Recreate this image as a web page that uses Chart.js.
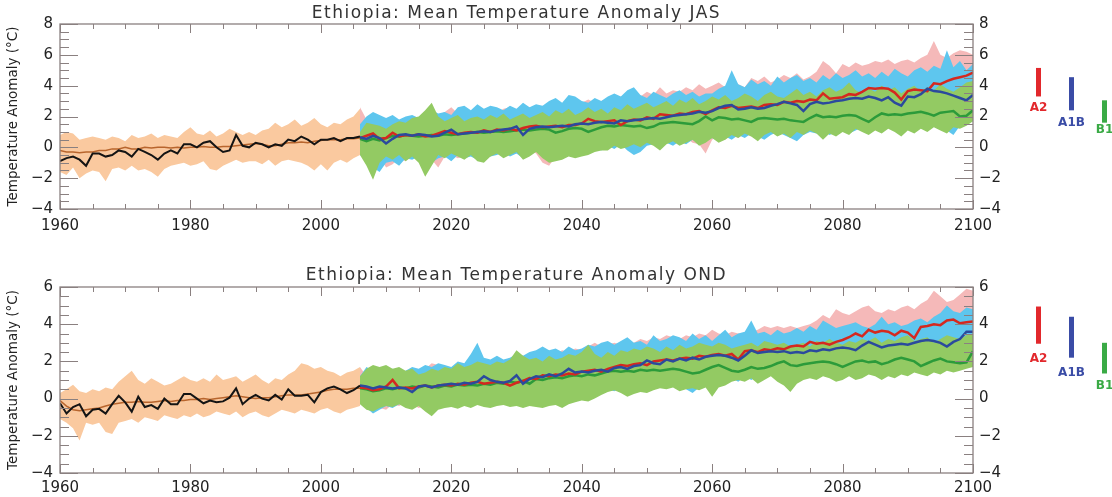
<!DOCTYPE html>
<html><head><meta charset="utf-8">
<script src="https://cdn.jsdelivr.net/npm/chart.js@4/dist/chart.umd.min.js"></script>
<style>
html,body{margin:0;padding:0;background:#fff;width:1112px;height:497px;overflow:hidden}
.p{position:absolute;left:0;width:1112px}
#w1{top:0;height:248px}
#w2{top:250px;height:247px}
</style></head><body>
<div id="w1" class="p"><canvas id="c1"></canvas></div>
<div id="w2" class="p"><canvas id="c2"></canvas></div>
<script>
// ---------- categories ----------
const histYears = [1960,1961,1962,1963,1964,1965,1966,1967,1968,1969,
1970,1971,1972,1973,1974,1975,1976,1977,1978,1979,
1980,1981,1982,1983,1984,1985,1986,1987,1988,1989,
1990,1991,1992,1993,1994,1995,1996,1997,1998,1999,
2000,2001,2002,2003,2004,2005,2006];
const projYears = [2006,2007,2008,2009,
2010,2011,2012,2013,2014,2015,2016,2017,2018,2019,
2020,2021,2022,2023,2024,2025,2026,2027,2028,2029,
2030,2031,2032,2033,2034,2035,2036,2037,2038,2039,
2040,2041,2042,2043,2044,2045,2046,2047,2048,2049,
2050,2051,2052,2053,2054,2055,2056,2057,2058,2059,
2060,2061,2062,2063,2064,2065,2066,2067,2068,2069,
2070,2071,2072,2073,2074,2075,2076,2077,2078,2079,
2080,2081,2082,2083,2084,2085,2086,2087,2088,2089,
2090,2091,2092,2093,2094,2095,2096,2097,2098,2099,
2100];
const xTickStep = 20;
const yTitle = 'Temperature Anomaly (°C)';
const titleJAS = 'Ethiopia: Mean Temperature Anomaly JAS';
const titleOND = 'Ethiopia: Mean Temperature Anomaly OND';
const scenarioNames = ['A2','A1B','B1'];

// ---------- JAS ----------
const jasObs = [-0.9,-0.7,-0.6,-0.8,-1.2,-0.4,-0.4,-0.6,-0.5,-0.2,
-0.3,-0.6,-0.1,-0.3,-0.5,-0.8,-0.4,-0.2,-0.4,0.2,
0.2,0.0,0.3,0.4,0.0,-0.3,-0.2,0.8,0.1,0.0,
0.3,0.2,0.0,0.2,0.1,0.5,0.4,0.7,0.5,0.2,
0.5,0.5,0.6,0.4,0.6,0.6,0.7];
const jasHistMean = [-0.2,-0.3,-0.3,-0.35,-0.3,-0.3,-0.2,-0.2,-0.1,-0.1,
0.0,-0.1,-0.1,0.0,-0.05,0.0,0.0,-0.05,0.0,-0.05,
0.0,0.0,0.05,0.0,0.0,0.05,0.05,0.1,0.15,0.2,
0.25,0.2,0.1,0.1,0.2,0.3,0.3,0.35,0.3,0.4,
0.45,0.5,0.5,0.5,0.55,0.55,0.6];
const jasHistHi = [0.8,1.0,0.9,0.5,0.6,0.7,0.6,0.5,0.7,0.6,
0.4,0.8,0.6,0.7,0.9,0.6,0.8,0.7,0.6,1.0,
1.3,0.9,0.8,1.1,0.7,0.9,1.2,1.0,0.8,1.0,
0.8,1.1,1.2,1.6,1.3,1.5,1.8,1.4,1.6,1.9,
1.5,1.3,1.6,1.5,1.8,2.0,2.5];
const jasHistLo = [-1.6,-1.8,-1.3,-2.0,-1.7,-1.5,-1.6,-2.2,-1.4,-1.3,
-1.5,-1.2,-1.5,-1.4,-1.6,-1.9,-1.4,-1.2,-1.1,-1.0,
-1.2,-1.1,-0.9,-1.4,-1.5,-1.2,-1.0,-0.8,-1.0,-0.9,
-0.9,-1.1,-0.8,-1.2,-0.9,-0.8,-0.9,-1.0,-1.2,-1.5,
-1.1,-1.5,-1.0,-0.8,-1.0,-0.7,-0.5];
const jasA2 = [0.60,0.75,0.90,0.55,
0.60,0.95,0.70,0.80,0.75,0.85,0.70,0.75,0.90,1.05,
0.95,0.85,0.95,1.00,0.95,1.10,1.00,1.15,1.10,1.20,
1.10,1.25,1.35,1.40,1.30,1.35,1.40,1.30,1.45,1.45,
1.55,1.85,1.70,1.65,1.70,1.75,1.45,1.70,1.80,1.75,
1.95,1.85,2.15,2.10,2.05,2.20,2.15,2.30,2.35,2.15,
2.40,2.60,2.55,2.70,2.55,2.60,2.65,2.55,2.75,2.80,
2.75,2.95,2.90,3.00,2.95,3.10,3.05,3.50,3.15,3.20,
3.25,3.45,3.40,3.60,3.85,3.80,3.85,3.80,3.55,3.10,
3.65,3.75,3.70,3.65,4.15,4.10,4.30,4.45,4.55,4.65,
4.85];
const jasA1B = [0.65,0.55,0.75,0.60,
0.25,0.55,0.80,0.85,0.75,0.85,0.80,0.70,0.75,0.95,
1.15,0.85,0.90,0.95,1.00,1.05,1.00,1.10,1.15,1.20,
1.35,0.80,1.20,1.30,1.35,1.30,1.35,1.40,1.35,1.50,
1.55,1.50,1.60,1.65,1.60,1.55,1.75,1.70,1.75,1.80,
1.85,1.90,1.85,1.95,2.05,2.10,2.15,2.20,2.30,2.25,
2.35,2.55,2.70,2.75,2.45,2.50,2.60,2.50,2.55,2.70,
2.80,2.95,2.85,2.75,2.35,2.80,2.95,2.85,2.90,3.00,
3.05,3.15,3.20,3.15,3.30,3.20,3.05,3.25,2.90,2.70,
3.30,3.25,3.45,3.80,3.65,3.60,3.50,3.35,3.20,3.05,
3.40];
const jasB1 = [0.55,0.40,0.55,0.45,
0.60,0.75,0.70,0.80,0.75,0.70,0.75,0.80,0.75,0.85,
0.80,0.85,0.90,0.95,1.00,0.95,1.00,1.05,1.00,1.05,
1.10,1.15,1.10,1.15,1.20,1.15,0.95,1.05,1.20,1.25,
1.20,1.00,1.15,1.30,1.40,1.35,1.45,1.40,1.35,1.40,
1.25,1.35,1.55,1.60,1.65,1.60,1.55,1.50,1.70,2.00,
1.75,1.95,1.90,1.80,1.85,1.75,1.65,1.85,1.90,1.85,
1.80,1.85,1.75,1.70,1.65,1.90,2.10,1.95,2.00,1.95,
2.05,2.10,2.05,1.85,1.65,1.95,2.20,2.10,2.15,2.10,
2.20,2.25,2.30,2.20,2.05,2.25,2.30,2.35,2.00,2.05,
2.40];
const jasB1Hi = [1.0,1.6,1.5,1.4,
1.2,1.5,1.7,1.6,1.9,2.0,2.4,2.9,2.0,1.7,
1.9,2.1,1.7,1.9,2.0,1.8,2.1,1.9,2.2,1.8,
2.0,2.2,1.9,2.1,2.3,2.0,2.4,2.2,2.5,2.1,
2.3,2.6,2.3,2.5,2.2,2.6,2.4,2.8,2.5,2.7,
2.9,2.6,2.8,3.0,2.7,3.1,2.9,3.2,2.8,3.0,
3.3,3.1,3.4,3.0,3.2,3.5,3.3,3.0,3.4,3.6,
3.3,3.2,3.5,3.8,3.4,3.6,3.3,3.7,3.9,3.6,
3.8,4.2,3.7,3.5,3.8,3.6,4.0,3.7,3.9,3.5,
3.8,4.0,3.6,3.9,3.7,4.1,3.8,3.6,3.9,4.2,
4.3];
const jasB1Lo = [-0.5,-1.2,-2.1,-1.0,
-0.6,-0.8,-0.5,-0.9,-0.6,-1.0,-1.9,-1.2,-0.5,-0.7,
-0.4,-0.6,-0.8,-0.5,-0.9,-1.0,-0.6,-0.4,-0.7,-0.5,
-0.3,-0.8,-0.6,-0.3,-0.7,-1.0,-0.9,-0.8,-0.6,-0.7,
-0.6,-0.5,-0.3,-0.2,-0.2,0.1,-0.1,0.0,0.2,0.0,
0.3,0.1,-0.2,0.2,0.4,0.1,0.3,0.5,0.1,0.3,
0.6,0.3,0.5,0.8,0.6,0.9,0.7,0.4,0.8,1.0,
0.7,0.9,0.6,1.0,0.8,1.1,0.9,0.5,0.9,0.7,
1.0,0.8,1.2,1.0,0.8,1.1,0.9,1.2,1.0,0.7,
1.1,0.9,1.2,1.0,1.3,1.1,0.9,1.3,1.2,1.4,
1.7];
const jasA1BHi = [1.5,2.0,2.3,2.1,
1.9,2.1,1.8,2.0,2.1,1.9,2.2,2.4,2.2,2.3,
2.1,2.6,2.7,2.4,2.8,2.5,2.7,2.6,2.4,2.7,
2.5,2.9,2.6,2.8,2.7,3.0,3.2,2.9,3.4,3.3,
3.0,2.9,3.2,3.0,3.3,3.5,3.3,3.7,3.9,3.4,
3.2,3.6,3.4,3.2,3.5,3.7,3.4,3.6,3.3,3.5,
3.5,3.8,4.0,5.0,4.1,3.9,4.4,4.1,4.3,4.0,
4.6,4.2,4.5,4.7,4.3,4.5,4.2,4.7,4.4,4.8,
4.5,4.7,5.0,4.6,4.8,4.5,4.9,4.6,5.1,4.8,
4.6,5.0,5.2,4.9,5.3,5.1,6.3,5.2,5.6,5.0,
5.4];
const jasA1BLo = [-0.5,-0.8,-1.3,-1.6,
-1.0,-0.9,-1.2,-0.7,-0.8,-0.6,-0.9,-1.0,-0.7,-0.6,
-0.9,-0.5,-0.7,-0.6,-0.8,-0.4,-0.6,-0.5,-0.3,-0.6,
-0.4,-0.7,-0.5,-0.2,-0.5,-0.6,-0.4,-0.3,-0.5,-0.2,
-0.1,-0.3,0.0,-0.2,0.1,-0.1,0.2,-0.2,-0.5,-0.3,
0.1,0.2,0.0,0.3,0.1,0.4,0.2,0.5,0.3,0.4,
0.6,0.4,0.7,0.5,0.8,0.6,0.9,0.7,0.5,0.8,
1.0,0.8,0.6,0.4,0.8,1.0,0.9,1.1,0.8,1.0,
1.2,0.9,1.1,1.3,1.0,1.2,1.1,1.4,1.2,1.0,
1.3,1.1,1.4,1.2,1.5,1.3,1.1,0.8,1.4,1.5,
1.7];
const jasA2Hi = [2.6,1.8,1.6,1.5,
1.4,1.7,1.6,1.8,1.7,1.9,1.8,2.0,2.1,2.3,
2.6,2.2,2.0,2.3,2.2,2.1,2.4,2.2,2.5,2.6,
2.3,2.4,2.6,2.5,2.7,2.6,2.8,2.7,2.9,2.8,
2.9,3.1,2.9,3.0,3.2,3.1,3.3,3.2,3.4,3.3,
3.6,3.4,3.9,3.5,3.7,3.6,3.9,3.7,4.1,3.8,
4.0,4.2,3.9,4.4,4.1,3.9,4.5,4.3,4.6,4.2,
4.4,4.7,4.5,4.8,4.4,4.6,4.9,5.6,5.3,4.8,
5.4,5.2,5.5,5.3,5.4,5.6,5.5,5.7,5.4,5.6,
5.7,5.5,5.8,6.0,6.9,6.0,5.8,6.1,6.3,6.2,
6.0];
const jasA2Lo = [-0.4,-0.6,-0.9,-0.6,
-1.3,-1.1,-0.7,-0.9,-0.5,-0.7,-0.4,-0.8,-1.3,-0.6,
-0.5,-0.7,-0.6,-0.3,-0.5,-0.4,-0.6,-0.2,-0.5,-0.3,
-0.4,-0.2,-0.1,-0.4,-1.0,-1.2,-0.6,-0.3,-0.1,-0.3,
0.0,-0.2,0.1,-0.1,0.2,0.0,0.1,0.3,0.1,0.2,
0.4,0.2,0.3,0.5,0.2,0.4,0.6,0.3,0.2,-0.4,
0.5,0.7,0.5,0.8,0.6,0.9,0.7,1.0,0.8,1.1,
0.9,1.2,1.0,1.1,1.3,1.1,1.4,1.2,1.5,1.3,
1.6,1.4,1.7,1.5,1.8,1.6,1.9,1.7,2.0,1.8,
2.1,1.9,2.2,2.0,2.3,2.1,2.4,2.2,2.5,2.3,
2.6];
// end-of-century ranges shown as bars at the right: [low, high]
const jasRangeA2 = [3.3, 5.15];
const jasRangeA1B = [2.4, 4.55];
const jasRangeB1 = [1.6, 3.05];

// ---------- OND ----------
const ondObs = [-0.25,-0.8,-0.45,-0.3,-0.95,-0.6,-0.55,-0.8,-0.3,0.15,
-0.2,-0.7,0.1,-0.45,-0.35,-0.55,0.0,-0.3,-0.3,0.25,
0.25,0.0,-0.25,-0.1,-0.2,-0.15,0.05,0.55,-0.3,0.0,
0.2,0.0,-0.1,0.2,-0.05,0.5,0.15,0.15,0.2,-0.2,
0.35,0.55,0.65,0.5,0.3,0.45,0.7];
const ondHistMean = [-0.1,-0.4,-0.6,-0.65,-0.6,-0.55,-0.5,-0.4,-0.3,-0.25,
-0.2,-0.2,-0.15,-0.2,-0.2,-0.15,-0.1,-0.15,-0.1,-0.1,
-0.05,-0.05,0.0,-0.05,0.0,0.05,0.1,0.15,0.1,0.05,
0.0,0.05,0.05,0.1,0.15,0.2,0.2,0.2,0.25,0.3,
0.35,0.45,0.5,0.5,0.5,0.55,0.55];
const ondHistHi = [0.3,0.5,0.75,0.4,0.3,0.5,0.4,0.6,0.5,0.9,
1.2,1.5,1.0,0.8,1.1,0.9,0.7,0.8,1.0,1.2,
1.0,0.9,1.1,0.9,1.3,1.0,1.1,1.2,0.9,1.1,
1.3,1.0,0.8,1.1,1.0,1.3,1.5,1.9,1.8,1.6,
1.7,1.5,1.4,1.2,1.4,1.5,1.7];
const ondHistLo = [-1.1,-1.3,-1.6,-2.25,-1.3,-1.4,-1.3,-1.8,-1.9,-1.3,
-1.2,-1.1,-1.3,-1.0,-1.1,-1.2,-0.9,-1.0,-1.1,-0.9,
-1.0,-0.8,-1.0,-0.9,-0.7,-0.8,-0.9,-0.7,-1.0,-0.8,
-0.7,-0.9,-1.0,-0.8,-0.6,-0.7,-0.8,-0.6,-0.7,-0.8,
-0.6,-0.5,-0.7,-0.8,-0.6,-0.5,-0.4];
const ondA2 = [0.60,0.55,0.45,0.50,
0.65,1.00,0.55,0.60,0.55,0.65,0.70,0.60,0.70,0.75,
0.70,0.80,0.75,0.85,0.90,0.80,0.85,0.90,0.85,0.70,
0.85,0.95,1.10,1.05,1.25,1.20,1.30,1.25,1.35,1.30,
1.45,1.50,1.55,1.45,1.60,1.70,1.80,1.75,1.85,1.90,
1.80,2.00,2.05,2.10,2.05,2.15,2.20,2.15,2.30,2.25,
2.35,2.40,2.30,2.40,2.10,2.55,2.60,2.50,2.65,2.60,
2.70,2.65,2.80,2.85,2.80,3.05,2.95,3.00,2.90,3.05,
3.15,3.30,3.50,3.35,3.70,3.55,3.65,3.60,3.40,3.65,
3.55,3.25,3.85,3.90,4.00,3.95,4.20,4.25,4.05,4.10,
4.15];
const ondA1B = [0.70,0.65,0.55,0.65,
0.60,0.55,0.60,0.55,0.35,0.65,0.70,0.60,0.70,0.75,
0.80,0.75,0.85,0.80,0.90,1.20,1.00,0.90,0.85,0.95,
1.25,0.80,1.05,1.20,1.15,1.30,1.20,1.35,1.60,1.40,
1.45,1.40,1.50,1.55,1.45,1.65,1.70,1.60,1.75,1.80,
2.05,1.90,1.85,2.10,2.00,2.15,2.05,2.20,2.10,2.25,
2.30,2.35,2.30,2.20,2.05,2.30,2.60,2.45,2.50,2.55,
2.50,2.55,2.45,2.50,2.45,2.60,2.55,2.65,2.60,2.70,
2.75,2.70,2.60,2.85,3.05,2.90,2.75,2.85,2.90,2.95,
2.90,3.00,3.10,3.15,3.10,3.00,2.80,3.05,3.20,3.60,
3.60];
const ondB1 = [0.55,0.50,0.40,0.45,
0.55,0.50,0.60,0.55,0.65,0.60,0.70,0.65,0.60,0.70,
0.65,0.75,0.70,0.75,0.70,0.80,0.75,0.85,0.80,0.90,
0.85,0.95,0.80,1.05,1.00,1.10,1.15,1.10,1.20,1.25,
1.20,1.30,1.25,1.35,1.45,1.50,1.45,1.50,1.45,1.55,
1.50,1.55,1.50,1.55,1.60,1.55,1.45,1.35,1.40,1.55,
1.70,1.80,1.65,1.50,1.45,1.55,1.70,1.60,1.65,1.75,
1.90,2.00,1.80,1.75,1.85,1.90,1.95,2.00,1.95,1.85,
1.70,1.85,2.00,2.05,1.95,2.00,1.85,1.95,2.10,2.20,
2.10,2.00,1.75,1.90,2.05,2.15,2.00,1.95,1.90,1.95,
2.55];
const ondB1Hi = [1.2,1.6,1.8,1.7,
1.8,1.6,1.7,1.5,1.6,1.3,1.4,1.6,1.5,1.7,
1.6,1.9,1.7,1.8,2.0,1.9,1.8,2.0,1.9,2.1,
2.6,2.3,2.1,2.2,2.0,2.3,2.1,2.2,2.4,2.3,
2.5,2.9,2.4,2.2,2.5,2.3,2.6,2.5,2.7,2.6,
2.8,2.7,2.5,2.8,2.6,2.9,2.7,2.8,3.0,2.9,
2.8,3.0,2.9,2.7,2.8,2.9,3.0,2.8,3.1,3.0,
2.9,3.0,2.8,2.9,3.0,2.8,3.1,3.0,3.2,3.0,
2.9,3.1,3.0,3.2,3.1,3.3,3.0,3.2,3.1,3.3,
3.4,3.1,3.2,3.3,3.0,3.2,3.4,3.3,3.2,3.4,
3.5];
const ondB1Lo = [-0.3,-0.6,-0.7,-0.5,
-0.4,-0.45,-0.3,-0.5,-0.6,-0.4,-0.7,-0.95,-0.6,-0.5,
-0.45,-0.55,-0.4,-0.5,-0.35,-0.45,-0.5,-0.4,-0.35,-0.45,
-0.4,-0.5,-0.4,-0.45,-0.5,-0.4,-0.35,-0.5,-0.3,-0.2,
-0.1,-0.15,0.0,0.2,0.35,0.45,0.3,0.1,0.25,0.35,
0.3,0.45,0.55,0.5,0.6,0.4,0.5,0.55,0.45,0.6,
0.1,0.6,0.7,0.9,1.0,0.9,1.1,0.8,1.0,1.2,
0.9,0.7,0.35,0.8,1.0,1.1,1.0,1.2,1.1,0.9,
1.0,1.2,1.0,1.1,1.3,1.2,1.0,1.2,1.1,1.3,
1.2,1.4,1.3,1.2,1.4,1.3,1.5,1.4,1.5,1.6,
1.7];
const ondA1BHi = [1.2,1.7,1.5,1.4,
1.5,1.6,1.4,1.5,1.7,1.6,1.8,1.7,1.9,1.8,
1.7,2.0,1.9,2.4,3.0,2.2,2.1,2.3,2.1,2.2,
2.4,2.3,2.5,2.6,2.8,2.6,2.7,2.5,2.8,2.6,
2.7,2.9,2.8,3.0,3.1,2.9,3.1,3.3,3.0,3.1,
2.9,3.4,3.1,3.2,3.4,3.3,3.1,3.5,3.2,3.4,
3.1,3.4,3.7,3.3,3.5,3.6,4.2,3.5,3.6,3.4,
3.7,3.5,3.6,3.8,3.6,3.9,3.7,4.2,4.0,3.8,
3.9,4.0,4.1,3.9,3.8,4.0,4.4,4.0,4.1,3.9,
4.0,4.2,4.3,4.1,4.4,4.6,5.0,4.7,4.6,4.9,
4.8];
const ondA1BLo = [-0.2,-0.5,-0.8,-0.6,
-0.4,-0.5,-0.3,-0.2,-0.5,-0.3,-0.4,-0.2,-0.3,-0.1,
-0.3,-0.2,-0.4,-0.3,-0.2,-0.3,-0.1,0.0,-0.2,0.0,
-0.1,0.1,0.0,0.2,0.1,0.0,0.2,0.1,-0.1,0.0,
0.3,0.2,0.4,0.3,0.5,0.4,0.6,0.5,0.3,0.6,
0.7,0.5,0.8,0.6,0.9,0.7,0.5,0.3,0.6,0.8,
0.9,1.0,0.8,1.1,0.9,1.2,1.0,1.2,1.1,1.3,
1.1,1.4,1.2,1.3,1.5,1.3,1.4,1.6,1.4,1.5,
1.3,1.5,1.6,1.4,1.7,1.5,1.6,1.8,1.6,1.7,
1.5,1.8,1.7,1.9,1.6,1.8,2.0,1.9,2.1,2.0,
2.2];
const ondA2Hi = [1.7,1.2,1.1,1.0,
1.2,1.3,1.1,1.2,1.4,1.5,1.6,1.9,1.8,1.7,
1.6,1.8,1.7,1.9,1.8,2.0,1.9,2.1,2.0,2.2,
2.1,2.3,2.2,2.4,2.3,2.5,2.4,2.6,2.5,2.7,
2.6,2.8,3.0,2.8,2.9,3.0,2.9,3.1,3.0,3.2,
3.1,3.3,3.2,3.4,3.3,3.2,3.4,3.3,3.5,3.4,
3.7,3.5,3.4,3.6,3.5,3.4,3.6,3.7,3.9,3.8,
3.9,3.8,3.9,3.8,3.9,4.0,4.2,4.5,4.3,4.8,
4.6,4.5,4.7,4.9,5.0,4.7,4.6,4.8,4.7,4.9,
5.0,4.8,5.1,5.3,5.8,5.5,5.2,5.3,5.6,5.9,
5.8];
const ondA2Lo = [-0.1,-0.3,-0.4,-0.5,
-0.6,-0.3,-0.4,-0.2,-0.3,-0.5,-0.4,-0.6,-0.3,-0.2,
-0.1,-0.3,-0.2,-0.1,0.0,-0.1,0.0,0.1,-0.1,0.1,
0.0,0.2,0.1,0.2,0.3,0.1,0.3,0.2,0.4,0.3,
0.5,0.4,0.6,0.5,0.6,0.7,0.6,0.8,0.7,0.8,
0.9,0.8,1.0,0.9,1.0,1.1,0.9,1.0,0.8,1.1,
1.2,1.1,1.2,1.3,1.2,1.4,1.3,1.5,1.4,1.5,
1.6,1.5,1.7,1.6,1.8,1.7,1.9,1.8,2.0,1.9,
2.1,2.0,2.2,2.1,2.3,2.2,2.4,2.3,2.5,2.4,
2.6,2.5,2.7,2.6,2.8,2.7,2.9,2.8,3.0,2.9,
3.1];
const ondRangeA2 = [2.95, 4.95];
const ondRangeA1B = [2.2, 4.4];
const ondRangeB1 = [1.35, 3.0];

// ---------- styling ----------
const COL = {
  hist:'#fac99f', a2Band:'#f5b9b9', a1bBand:'#5ec6ee', b1Band:'#93ca63',
  obs:'#141414', histLine:'#b8652d', a2:'#d5281f', a1b:'#2b4a9d', b1:'#2c9b3a',
  frame:'#8a8080', text:'#222', legA2:'#e2282c', legA1B:'#3a4ca6', legB1:'#3aaa45'
};
Chart.defaults.font.family = "'DejaVu Sans', sans-serif";
Chart.defaults.color = COL.text;

function pts(xs, ys){ return xs.map((x,i)=>({x:x, y:ys[i]})); }
function lineDs(label, xs, ys, color, w){
  return {label, data:pts(xs,ys), borderColor:color, borderWidth:w, pointRadius:0, fill:false, tension:0, order:0};
}
function hiDs(label, xs, ys, color, order){
  return {label, data:pts(xs,ys), borderColor:'rgba(0,0,0,0)', borderWidth:0, backgroundColor:color, pointRadius:0, fill:'+1', tension:0, order};
}
function loDs(label, xs, ys, order){
  return {label, data:pts(xs,ys), borderColor:'rgba(0,0,0,0)', borderWidth:0, pointRadius:0, fill:false, tension:0, order};
}
const fmt = v => v < 0 ? '\u2212' + Math.abs(v) : String(v);

function makePanel(canvasId, P){
  const ds = [
    lineDs('Observed', histYears, P.obs, COL.obs, 2),
    lineDs('Model 20th century', histYears, P.histMean, COL.histLine, 1.5),
    lineDs('A1B', projYears, P.a1b, COL.a1b, 2.5),
    lineDs('A2', projYears, P.a2, COL.a2, 2.5),
    lineDs('B1', projYears, P.b1, COL.b1, 2.5),
    hiDs('B1 max', projYears, P.b1Hi, COL.b1Band, 1), loDs('B1 min', projYears, P.b1Lo, 1),
    hiDs('A1B max', projYears, P.a1bHi, COL.a1bBand, 2), loDs('A1B min', projYears, P.a1bLo, 2),
    hiDs('A2 max', projYears, P.a2Hi, COL.a2Band, 3), loDs('A2 min', projYears, P.a2Lo, 3),
    hiDs('Model max', histYears, P.histHi, COL.hist, 4), loDs('Model min', histYears, P.histLo, 4)
  ];
  const decor = {
    id:'decor',
    afterDraw(chart){
      const {ctx, chartArea:a, scales} = chart;
      const x = scales.x, y = scales.y;
      ctx.save();
      ctx.strokeStyle = COL.frame; ctx.lineWidth = 1.3;
      ctx.strokeRect(a.left, a.top, a.right - a.left, a.bottom - a.top);
      ctx.lineWidth = 1;
      ctx.beginPath();
      const n = Math.round((P.yMax - P.yMin) * 2);
      for (let k = 0; k <= n; k++) {
        const v = P.yMin + k * 0.5;
        const py = Math.round(y.getPixelForValue(v)) + 0.5;
        const L = (k % 4 === 0) ? 18 : 9;
        ctx.moveTo(a.left, py); ctx.lineTo(a.left + L, py);
        ctx.moveTo(a.right, py); ctx.lineTo(a.right - L, py);
      }
      for (let yr = 1960; yr <= 2100; yr += 5) {
        const px = Math.round(x.getPixelForValue(yr)) + 0.5;
        const L = (yr % 20 === 0) ? 9 : 5;
        ctx.moveTo(px, a.bottom); ctx.lineTo(px, a.bottom - L);
        ctx.moveTo(px, a.top); ctx.lineTo(px, a.top + L);
      }
      ctx.stroke();
      ctx.fillStyle = '#333';
      ctx.font = "17px 'DejaVu Sans', sans-serif";
      try { ctx.letterSpacing = '1.5px'; } catch(e) {}
      ctx.textAlign = 'center'; ctx.textBaseline = 'alphabetic';
      ctx.fillText(P.title, (a.left + a.right) / 2, P.titleBase);
      try { ctx.letterSpacing = '0px'; } catch(e) {}
      const bars = [
        [scenarioNames[0], P.rA2, COL.legA2, 1038.5, P.labY[0]],
        [scenarioNames[1], P.rA1B, COL.legA1B, 1071.5, P.labY[1]],
        [scenarioNames[2], P.rB1, COL.legB1, 1104.5, P.labY[2]]
      ];
      ctx.font = "bold 12px 'DejaVu Sans', sans-serif";
      ctx.textBaseline = 'middle';
      bars.forEach(([name, r, c, xc, ly]) => {
        const y0 = y.getPixelForValue(r[1]), y1 = y.getPixelForValue(r[0]);
        ctx.fillStyle = c;
        ctx.fillRect(xc - 2.5, y0, 5, y1 - y0);
        ctx.fillText(name, xc, ly);
      });
      ctx.restore();
    }
  };
  const yTicks = {stepSize:2, padding:7, font:{size:15}, color:COL.text, callback:fmt};
  return new Chart(document.getElementById(canvasId), {
    type:'line',
    data:{datasets:ds},
    options:{
      responsive:true, maintainAspectRatio:false, animation:false, devicePixelRatio:1,
      layout:{padding:{top:P.padTop, right:79, left:0, bottom:0}},
      plugins:{legend:{display:false}, tooltip:{enabled:false}, title:{display:false}},
      scales:{
        x:{type:'linear', min:1960, max:2100,
           grid:{display:false, drawTicks:false}, border:{display:false},
           ticks:{stepSize:xTickStep, autoSkip:false, maxRotation:0, padding:P.xPad, font:{size:15}, color:COL.text, callback:v=>String(v)},
           afterFit:s=>{ s.height = P.xH; }},
        y:{type:'linear', position:'left', min:P.yMin, max:P.yMax,
           grid:{display:false, drawTicks:false}, border:{display:false},
           ticks:yTicks,
           title:{display:true, text:yTitle, font:{size:13.5}, color:COL.text, padding:{top:5, bottom:0}},
           afterFit:s=>{ s.width = 60; }},
        y2:{type:'linear', position:'right', min:P.yMin, max:P.yMax,
           grid:{display:false, drawTicks:false}, border:{display:false},
           ticks:Object.assign({}, yTicks, {padding:6}),
           afterFit:s=>{ s.width = 60; }}
      }
    },
    plugins:[decor]
  });
}

makePanel('c1', {
  title:titleJAS, titleBase:18, padTop:24, xH:39, xPad:8, yMin:-4, yMax:8,
  obs:jasObs, histMean:jasHistMean, histHi:jasHistHi, histLo:jasHistLo,
  a2:jasA2, a1b:jasA1B, b1:jasB1,
  a2Hi:jasA2Hi, a2Lo:jasA2Lo, a1bHi:jasA1BHi, a1bLo:jasA1BLo, b1Hi:jasB1Hi, b1Lo:jasB1Lo,
  rA2:jasRangeA2, rA1B:jasRangeA1B, rB1:jasRangeB1, labY:[108,123,130]
});
makePanel('c2', {
  title:titleOND, titleBase:30, padTop:37, xH:24, xPad:6, yMin:-4, yMax:6,
  obs:ondObs, histMean:ondHistMean, histHi:ondHistHi, histLo:ondHistLo,
  a2:ondA2, a1b:ondA1B, b1:ondB1,
  a2Hi:ondA2Hi, a2Lo:ondA2Lo, a1bHi:ondA1BHi, a1bLo:ondA1BLo, b1Hi:ondB1Hi, b1Lo:ondB1Lo,
  rA2:ondRangeA2, rA1B:ondRangeA1B, rB1:ondRangeB1, labY:[109,123,136]
});
</script>
</body></html>
